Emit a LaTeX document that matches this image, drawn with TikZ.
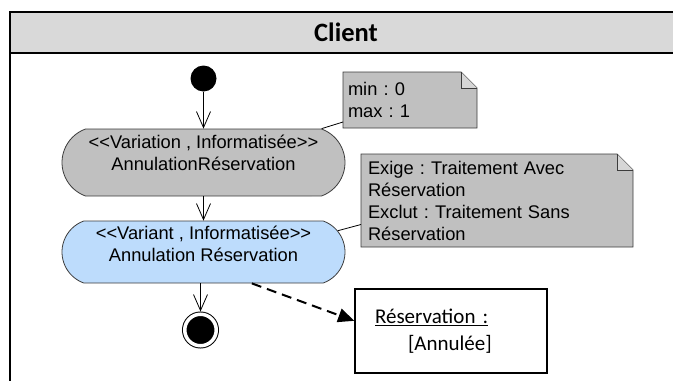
\documentclass[tikz,border=0pt]{standalone}
\usepackage{fontspec}
\setmainfont{Liberation Sans}
\newfontfamily\calibri{Carlito}
\usetikzlibrary{shapes.misc,arrows.meta,backgrounds}
\definecolor{actgray}{RGB}{192,192,192}
\definecolor{actblue}{RGB}{189,220,252}
\definecolor{headgray}{RGB}{217,217,217}
\definecolor{notegray}{RGB}{192,192,192}
\definecolor{foldgray}{RGB}{214,214,214}
\definecolor{edgegray}{RGB}{60,60,60}
\frenchspacing

\begin{document}
\begin{tikzpicture}[
    x=1pt, y=-1pt,
    every node/.style={font=\fontsize{18.3}{22}\selectfont},
    action/.style={rounded rectangle, rounded rectangle arc length=140, draw=edgegray, line width=0.8pt, minimum width=283pt, inner sep=0pt},
    notebox/.style={anchor=north west, inner ysep=0pt, outer sep=0pt, align=left},
    flow/.style={-{Straight Barb[length=16pt,width=14pt]}, line width=0.8pt}
]
\useasboundingbox (0,0) rectangle (673,381);

% Swimlane
\fill[headgray] (10,12) rectangle (673,53);
\draw[line width=2pt] (673,12) -- (10,12) -- (10,381);
\draw[line width=2pt] (10,53) -- (673,53);
\node[font=\calibri\bfseries\fontsize{26.5}{30}\selectfont] (client) at (346,32) {Client};

% Start and end
\node[circle, fill=black, minimum size=26pt, inner sep=0pt] (start) at (203.5,78.5) {};
\node[circle, fill=black, draw=black, line width=1pt, double=white, double distance=3.5pt, minimum size=31.5pt, inner sep=0pt, outer sep=2.75pt] (fin) at (200.5,330) {};

% Actions
\node[action, fill=actgray, minimum height=67pt,
    label={[align=center, yshift=10pt]center:{<{}<Variation , Informatisée>{}>\\AnnulationRéservation}}] (act1) at (203.5,162.5) {};
\node[action, fill=actblue, minimum height=62pt,
    label={[align=center, yshift=8.5pt]center:{<{}<Variant , Informatisée>{}>\\Annulation Réservation}}] (act2) at (203.5,252) {};

% Notes
\node[notebox, inner xsep=5pt, text width=124pt, minimum height=56pt] (n1) at (343,72) {min : 0\\max : 1};
\node[notebox, inner xsep=7pt, text width=258pt, minimum height=93pt] (n2) at (361,154) {Exige : Traitement Avec\\Réservation\\Exclut : Traitement Sans\\Réservation};
\begin{scope}[on background layer]
\foreach \n in {n1,n2} {
    \filldraw[fill=notegray, draw=edgegray, line width=0.8pt] (\n.south west) -- (\n.north west) -- ([xshift=-16pt]\n.north east) -- ([yshift=-16pt]\n.north east) -- (\n.south east) -- cycle;
    \filldraw[fill=foldgray, draw=edgegray, line width=0.8pt] ([xshift=-16pt]\n.north east) -- ([xshift=-16pt,yshift=-16pt]\n.north east) -- ([yshift=-16pt]\n.north east);
}
\end{scope}

% Object
\node[draw, line width=1.6pt, font=\calibri\fontsize{21}{27}\selectfont, text width=152pt, align=left, inner xsep=20pt, minimum height=84pt] (obj) at (451,331) {\underline{Réservation :}\\\hspace*{33pt}[Annulée]};

% Connectors
\draw[flow] (start) -- (act1);
\draw[flow] (act1) -- (act2);
\draw[flow] (act2.south -| fin) -- (fin);
\draw[line width=0.8pt] ([yshift=6pt]n1.south west) -- (act1.16);
\draw[line width=0.8pt] ([yshift=-24pt]n2.west) -- (act2.9);
\draw[line width=2pt, dash pattern=on 10pt off 6pt, -{Triangle[length=16pt,width=14pt]}] (act2.-33) -- (obj.174);

\end{tikzpicture}
\end{document}
